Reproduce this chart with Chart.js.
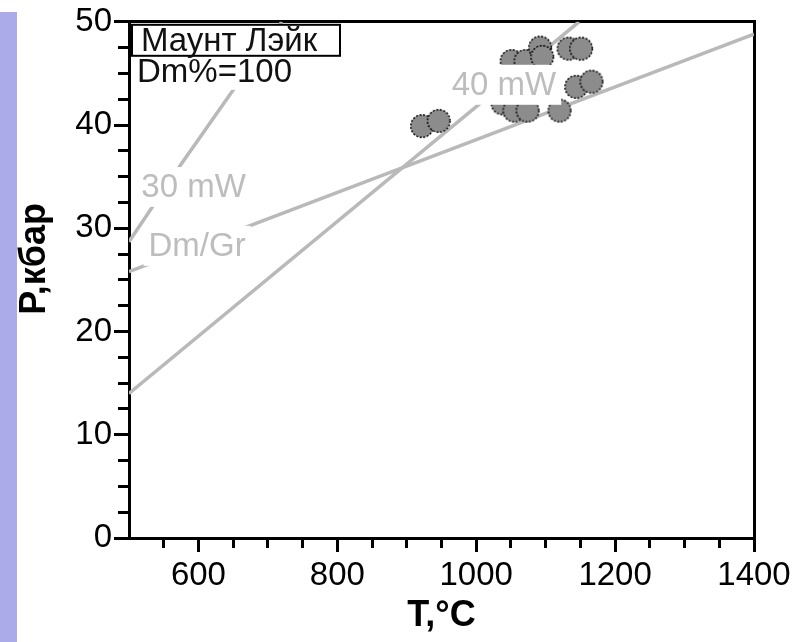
<!DOCTYPE html>
<html><head><meta charset="utf-8">
<script src="https://cdn.jsdelivr.net/npm/chart.js@4"></script>
<style>
html,body{margin:0;padding:0;background:#fff;}
#wrap{position:relative;width:800px;height:642px;overflow:hidden;}
#band{position:absolute;left:0;top:12px;width:17px;height:630px;background:#ababe9;}
#c{position:absolute;left:0;top:0;}
</style></head><body>
<div id="wrap"><div id="band"></div><canvas id="c" width="800" height="642"></canvas></div>
<script>
const FONT = '"Liberation Sans", Arial, Helvetica, sans-serif';

// axis ranges and tick labels
const xRange = [500, 1400];
const yRange = [0, 50];
const xTickLabels = [600, 800, 1000, 1200, 1400];
const yTickLabels = [0, 10, 20, 30, 40, 50];
const xMinorStep = 50;
const yMinorStep = 2.5;

// samples (Mount Lake), T °C and P kbar
const sampleT = [922, 946, 1038, 1055, 1074, 1120, 1051, 1071, 1092, 1095, 1133, 1151, 1144, 1166];
const sampleP = [39.9, 40.4, 42.1, 41.4, 41.4, 41.4, 46.2, 46.2, 47.5, 46.6, 47.4, 47.4, 43.7, 44.2];

// reference lines
const geotherm30T = [500, 573, 650, 720];
const geotherm30P = [28.7, 36.0, 43.4, 50];
const geotherm40T = [500, 1148];
const geotherm40P = [14.0, 50];
const dmGrT = [500, 1400];
const dmGrP = [25.8, 48.8];

// line labels (anchored in data units)
const noteText = ['30 mW', 'Dm/Gr', '40 mW'];
const noteT = [593, 598, 1040];
const noteP = [34.0, 28.3, 43.9];

const boxTitle = 'Маунт Лэйк';
const boxSub = 'Dm%=100';
const xTitle = 'T,°C';
const yTitle = 'P,кбар';

const zip = (xs, ys) => xs.map((x, i) => ({x, y: ys[i]}));

function ticksBetween(lo, hi, step) {
  const out = [];
  const n = Math.round((hi - lo) / step);
  for (let i = 0; i <= n; i++) out.push(+(lo + i * step).toFixed(4));
  return out;
}
const xAllTicks = ticksBetween(xRange[0], xRange[1], xMinorStep).filter(v => v !== xRange[0]);
const yAllTicks = ticksBetween(yRange[0], yRange[1], yMinorStep);

// point sprite: grey disc with dotted black outline
function makeDot(r) {
  const c = document.createElement('canvas');
  const s = Math.ceil(r * 2 + 3);
  c.width = s; c.height = s;
  const g = c.getContext('2d');
  g.beginPath();
  g.arc(s / 2, s / 2, r, 0, Math.PI * 2);
  g.fillStyle = '#8c8c8c';
  g.fill();
  g.setLineDash([2, 1.6]);
  g.lineWidth = 1.4;
  g.strokeStyle = '#000';
  g.stroke();
  return c;
}
const dot = makeDot(11.3);

const LINE_GREY = '#b9b9b9';
const NOTE_GREY = '#bdbdbd';

const notesPlugin = {
  id: 'notes',
  afterDatasetsDraw(chart) {
    const {ctx, chartArea, scales} = chart;
    ctx.save();
    ctx.font = '33px ' + FONT;
    ctx.textBaseline = 'middle';
    ctx.textAlign = 'center';
    noteText.forEach((t, i) => {
      const x = scales.x.getPixelForValue(noteT[i]);
      const y = scales.y.getPixelForValue(noteP[i]);
      const w = ctx.measureText(t).width;
      ctx.fillStyle = '#fff';
      ctx.fillRect(x - w / 2 - 5, y - 20, w + 10, 40);
      ctx.fillStyle = NOTE_GREY;
      ctx.fillText(t, x, y + 1);
    });
    // title box
    const L = chartArea.left, T = chartArea.top;
    ctx.textAlign = 'left';
    ctx.fillStyle = '#fff';
    ctx.fillRect(L + 2, T + 34, 170, 34);
    ctx.fillRect(L + 3, T + 3, 208, 31);
    ctx.lineWidth = 2;
    ctx.strokeStyle = '#000';
    ctx.strokeRect(L + 3, T + 3, 208, 31);
    ctx.fillStyle = '#111';
    ctx.fillText(boxTitle, L + 12, T + 20);
    ctx.fillText(boxSub, L + 8, T + 51);
    ctx.restore();
  },
  afterDraw(chart) {
    const {ctx, chartArea} = chart;
    ctx.save();
    ctx.font = 'bold 36px ' + FONT;
    ctx.fillStyle = '#000';
    ctx.textAlign = 'center';
    ctx.textBaseline = 'middle';
    ctx.translate(35, (chartArea.top + chartArea.bottom) / 2 - 21);
    ctx.rotate(-Math.PI / 2);
    ctx.fillText(yTitle, 0, 0);
    ctx.restore();
  }
};

const isMajorX = v => xTickLabels.includes(v);
const isMajorY = v => yTickLabels.includes(v);

new Chart(document.getElementById('c'), {
  type: 'scatter',
  data: {
    datasets: [
      {
        label: 'Маунт Лэйк',
        data: zip(sampleT, sampleP),
        pointStyle: dot,
        pointRadius: 11.5,
        pointHoverRadius: 11.5
      },
      {
        label: '40 mW',
        data: zip(geotherm40T, geotherm40P),
        showLine: true, borderColor: LINE_GREY, borderWidth: 3.5, pointRadius: 0, tension: 0
      },
      {
        label: 'Dm/Gr',
        data: zip(dmGrT, dmGrP),
        showLine: true, borderColor: LINE_GREY, borderWidth: 3.5, pointRadius: 0, tension: 0
      },
      {
        label: '30 mW',
        data: zip(geotherm30T, geotherm30P),
        showLine: true, borderColor: LINE_GREY, borderWidth: 3.5, pointRadius: 0, tension: 0
      }
    ]
  },
  options: {
    responsive: false,
    animation: false,
    events: [],
    layout: { padding: { top: 8, right: 38, left: 0, bottom: 0 } },
    plugins: { legend: { display: false }, tooltip: { enabled: false } },
    scales: {
      x: {
        type: 'linear', position: 'bottom', min: xRange[0], max: xRange[1],
        afterBuildTicks: s => { s.ticks = xAllTicks.map(v => ({value: v})); },
        ticks: {
          autoSkip: false, maxRotation: 0, padding: 4, color: '#000',
          font: { family: FONT, size: 33 },
          callback: v => isMajorX(v) ? String(v) : ''
        },
        grid: {
          drawOnChartArea: false, tickLength: 14, lineWidth: 3, tickWidth: 3,
          color: '#000', tickColor: '#000',
          tickBorderDash: c => (c.tick && isMajorX(c.tick.value)) ? [] : [8, 300]
        },
        border: { display: true, color: '#000', width: 3 },
        title: {
          display: true, text: xTitle, color: '#000',
          font: { family: FONT, size: 36, weight: 'bold' },
          padding: { top: 0, bottom: 4 }
        },
        afterFit: s => { s.height = 104; }
      },
      y: {
        type: 'linear', position: 'left', min: yRange[0], max: yRange[1],
        afterBuildTicks: s => { s.ticks = yAllTicks.map(v => ({value: v})); },
        ticks: {
          autoSkip: false, padding: 2, color: '#000',
          font: { family: FONT, size: 33 },
          callback: v => isMajorY(v) ? String(v) : ''
        },
        grid: {
          drawOnChartArea: false, tickLength: 15, lineWidth: 3, tickWidth: 3,
          color: '#000', tickColor: '#000',
          tickBorderDash: c => (c.tick && isMajorY(c.tick.value)) ? [] : [10, 300],
          tickBorderDashOffset: c => (c.tick && isMajorY(c.tick.value)) ? 0 : 306
        },
        border: { display: true, color: '#000', width: 3 },
        afterFit: s => { s.width = 129; }
      },
      xTop: {
        type: 'linear', position: 'top', min: xRange[0], max: xRange[1], display: true,
        ticks: { display: false }, grid: { display: false },
        border: { display: true, color: '#000', width: 3 }
      },
      yRight: {
        type: 'linear', position: 'right', min: yRange[0], max: yRange[1], display: true,
        ticks: { display: false }, grid: { display: false },
        border: { display: true, color: '#000', width: 3 }
      }
    }
  },
  plugins: [notesPlugin]
});
</script>
</body></html>
